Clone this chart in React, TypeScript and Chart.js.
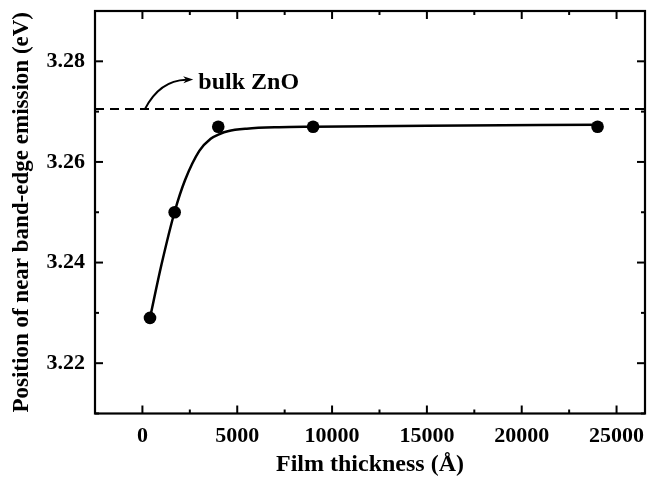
import React, { useEffect, useRef } from "react";
import { Chart, registerables } from "chart.js";

Chart.register(...registerables);

// Measured points
const pointX = [400, 1700, 4000, 9000, 24000];
const pointY = [3.229, 3.25, 3.267, 3.267, 3.267];

// Fitted guide curve
const fitX = [400, 1000, 1700, 2250, 3000, 3600, 4100, 4500, 5500, 7200, 9000, 15000, 24000];
const fitY = [3.229, 3.2395, 3.2501, 3.2564, 3.2622, 3.2646, 3.2656, 3.2661, 3.2666, 3.2669, 3.267, 3.2672, 3.2674];

// Bulk ZnO reference level
const bulkY = 3.2705;

// Axis ranges and ticks
const xRange = [-2500, 26500];
const yRange = [3.21, 3.29];
const xMajorTicks = [0, 5000, 10000, 15000, 20000, 25000];
const xMinorTicks = [-2500, 2500, 7500, 12500, 17500, 22500];
const yMajorTicks = [3.22, 3.24, 3.26, 3.28];
const yMinorTicks = [3.21, 3.23, 3.25, 3.27, 3.29];

// Texts
const xTitle = "Film thickness (Å)";
const yTitle = "Position of near band-edge emission (eV)";
const annotationText = "bulk ZnO";

// Annotation anchor values (data coordinates)
const arrowStart = { x: 130, y: 3.2705 };
const arrowControl = { x: 900, y: 3.2762 };
const arrowEnd = { x: 2680, y: 3.2764 };
const textAnchor = { x: 2950, y: 3.2758 };

const FONT = "'Liberation Serif', 'Times New Roman', serif";

const framePlugin = {
  id: "frameTicks",
  afterDatasetsDraw(chart: any) {
    const { ctx, chartArea: a, scales } = chart;
    const xs = scales.x;
    const ys = scales.y;
    ctx.save();
    ctx.strokeStyle = "#000";
    ctx.lineWidth = 2;
    ctx.lineCap = "butt";
    const line = (x1: number, y1: number, x2: number, y2: number) => {
      ctx.beginPath();
      ctx.moveTo(x1, y1);
      ctx.lineTo(x2, y2);
      ctx.stroke();
    };
    for (const v of xMajorTicks) {
      const p = xs.getPixelForValue(v);
      line(p, a.bottom, p, a.bottom - 8);
      line(p, a.top, p, a.top + 8);
    }
    for (const v of xMinorTicks) {
      const p = xs.getPixelForValue(v);
      line(p, a.bottom, p, a.bottom - 4);
      line(p, a.top, p, a.top + 4);
    }
    for (const v of yMajorTicks) {
      const p = ys.getPixelForValue(v);
      line(a.left, p, a.left + 8, p);
      line(a.right, p, a.right - 8, p);
    }
    for (const v of yMinorTicks) {
      const p = ys.getPixelForValue(v);
      line(a.left, p, a.left + 4, p);
      line(a.right, p, a.right - 4, p);
    }
    ctx.lineWidth = 2.2;
    ctx.strokeRect(a.left, a.top, a.right - a.left, a.bottom - a.top);
    ctx.restore();
  },
};

const annotationPlugin = {
  id: "bulkAnnotation",
  afterDatasetsDraw(chart: any) {
    const { ctx, scales } = chart;
    const xs = scales.x;
    const ys = scales.y;
    const sx = xs.getPixelForValue(arrowStart.x);
    const sy = ys.getPixelForValue(arrowStart.y);
    const cx = xs.getPixelForValue(arrowControl.x);
    const cy = ys.getPixelForValue(arrowControl.y);
    const ex = xs.getPixelForValue(arrowEnd.x);
    const ey = ys.getPixelForValue(arrowEnd.y);
    ctx.save();
    ctx.strokeStyle = "#000";
    ctx.fillStyle = "#000";
    ctx.lineWidth = 2;
    const ang = Math.atan2(ey - cy, ex - cx);
    const headLen = 10;
    const bx = ex - headLen * 0.7 * Math.cos(ang);
    const by = ey - headLen * 0.7 * Math.sin(ang);
    ctx.beginPath();
    ctx.moveTo(sx, sy);
    ctx.quadraticCurveTo(cx, cy, bx, by);
    ctx.stroke();
    ctx.beginPath();
    ctx.moveTo(ex, ey);
    ctx.lineTo(ex - headLen * Math.cos(ang) + 3.5 * Math.sin(ang), ey - headLen * Math.sin(ang) - 3.5 * Math.cos(ang));
    ctx.lineTo(ex - headLen * 0.7 * Math.cos(ang), ey - headLen * 0.7 * Math.sin(ang));
    ctx.lineTo(ex - headLen * Math.cos(ang) - 3.5 * Math.sin(ang), ey - headLen * Math.sin(ang) + 3.5 * Math.cos(ang));
    ctx.closePath();
    ctx.fill();
    ctx.font = `bold 24px ${FONT}`;
    ctx.textAlign = "left";
    ctx.textBaseline = "middle";
    ctx.fillText(annotationText, xs.getPixelForValue(textAnchor.x), ys.getPixelForValue(textAnchor.y));
    ctx.restore();
  },
};

const zeroPadding = (s: any) => {
  s.paddingTop = 0;
  s.paddingBottom = 0;
  s.paddingLeft = 0;
  s.paddingRight = 0;
};

export default function App() {
  const ref = useRef<HTMLCanvasElement | null>(null);
  useEffect(() => {
    if (!ref.current) return;
    const chart = new Chart(ref.current, {
      type: "line",
      data: {
        datasets: [
          {
            label: "bulk",
            data: xRange.map((x) => ({ x, y: bulkY })),
            borderColor: "#000",
            borderWidth: 2,
            borderDash: [9, 6],
            pointRadius: 0,
            fill: false,
          },
          {
            label: "fit",
            data: fitX.map((x, i) => ({ x, y: fitY[i] })),
            borderColor: "#000",
            borderWidth: 2.5,
            pointRadius: 0,
            cubicInterpolationMode: "monotone",
            fill: false,
          },
          {
            label: "data",
            data: pointX.map((x, i) => ({ x, y: pointY[i] })),
            showLine: false,
            pointRadius: 6.3,
            pointBackgroundColor: "#000",
            pointBorderColor: "#000",
            pointBorderWidth: 0,
          },
        ],
      },
      options: {
        responsive: false,
        animation: false,
        layout: { autoPadding: false, padding: { top: 11, right: 3, bottom: 0, left: 0 } },
        plugins: {
          legend: { display: false },
          tooltip: { enabled: false },
        },
        scales: {
          x: {
            type: "linear",
            min: xRange[0],
            max: xRange[1],
            grid: { display: false, drawTicks: false },
            border: { display: false },
            afterBuildTicks: (s: any) => {
              s.ticks = xMajorTicks.map((v) => ({ value: v }));
            },
            afterFit: (s: any) => {
              s.height = 65.5;
              zeroPadding(s);
            },
            ticks: {
              padding: 10,
              color: "#000",
              font: { family: FONT, weight: "bold", size: 22 },
              callback: (v: any) => String(v),
              maxRotation: 0,
            },
            title: {
              display: true,
              text: xTitle,
              color: "#000",
              font: { family: FONT, weight: "bold", size: 24 },
              padding: { top: 0, bottom: 0 },
            },
          },
          y: {
            type: "linear",
            min: yRange[0],
            max: yRange[1],
            grid: { display: false, drawTicks: false },
            border: { display: false },
            afterBuildTicks: (s: any) => {
              s.ticks = yMajorTicks.map((v) => ({ value: v }));
            },
            afterFit: (s: any) => {
              s.width = 95;
              zeroPadding(s);
            },
            ticks: {
              padding: 10,
              color: "#000",
              font: { family: FONT, weight: "bold", size: 22 },
              callback: (v: any) => Number(v).toFixed(2),
            },
            title: {
              display: true,
              text: yTitle,
              color: "#000",
              font: { family: FONT, weight: "bold", size: 23 },
              padding: { top: 8, bottom: 0 },
            },
          },
        },
      } as any,
      plugins: [framePlugin, annotationPlugin],
    });
    return () => chart.destroy();
  }, []);
  return (
    <div style={{ position: "absolute", left: 0, top: 0, width: 648, height: 479, background: "#fff" }}>
      <canvas ref={ref} width={648} height={479} style={{ display: "block" }} />
    </div>
  );
}
